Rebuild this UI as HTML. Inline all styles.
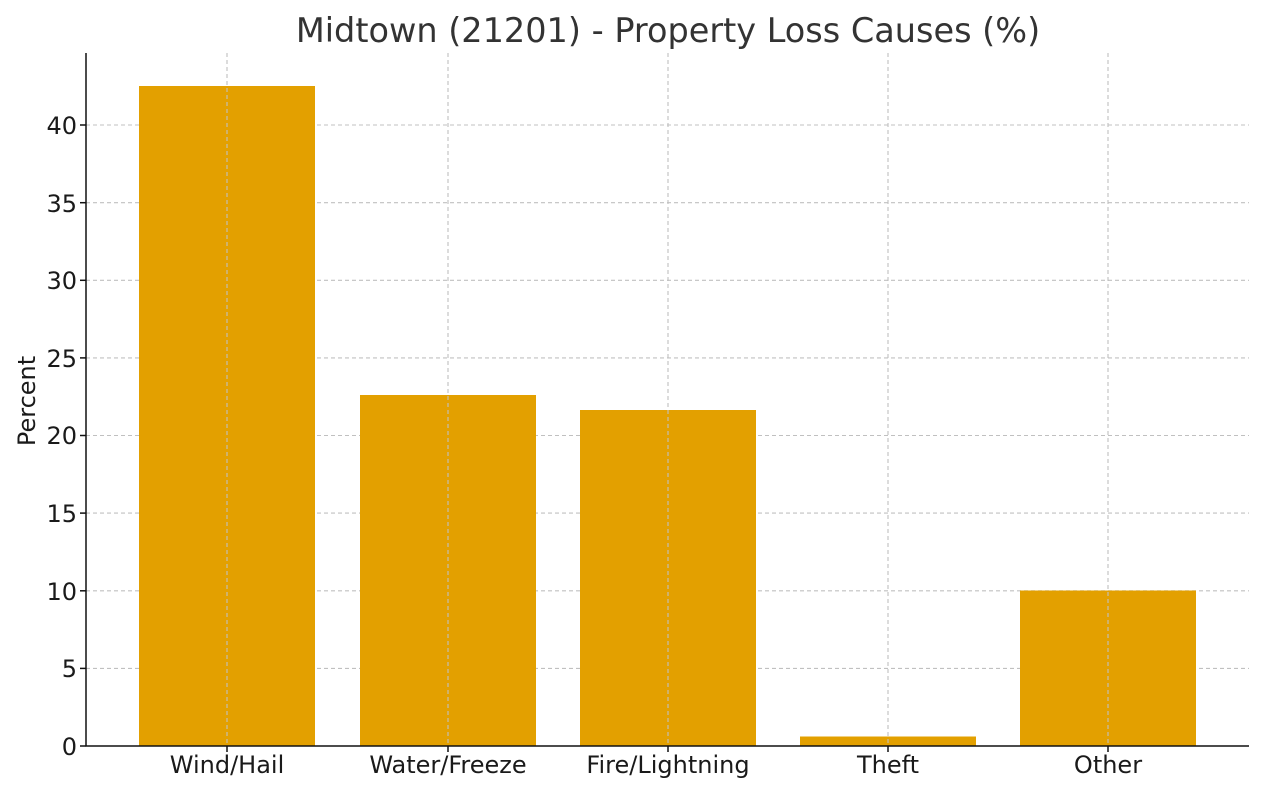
<!DOCTYPE html>
<html><head><meta charset="utf-8"><style>
html,body{margin:0;padding:0;background:#fff;}
svg text{font-family:"DejaVu Sans","Liberation Sans",sans-serif;}
</style></head><body>
<svg width="1263" height="792" xmlns="http://www.w3.org/2000/svg">
<rect width="1263" height="792" fill="#fff"/>
<g stroke="#c0c0c0" stroke-width="1.1" stroke-dasharray="4,3">
<line x1="86" x2="1249" y1="668.4" y2="668.4"/>
<line x1="86" x2="1249" y1="590.8" y2="590.8"/>
<line x1="86" x2="1249" y1="513.1" y2="513.1"/>
<line x1="86" x2="1249" y1="435.5" y2="435.5"/>
<line x1="86" x2="1249" y1="357.9" y2="357.9"/>
<line x1="86" x2="1249" y1="280.3" y2="280.3"/>
<line x1="86" x2="1249" y1="202.7" y2="202.7"/>
<line x1="86" x2="1249" y1="125" y2="125"/>
</g>
<g fill="#e3a000">
<rect x="139" y="86" width="176" height="660"/>
<rect x="360" y="395" width="176" height="351"/>
<rect x="580" y="410" width="176" height="336"/>
<rect x="800" y="736.5" width="176" height="9.5"/>
<rect x="1020" y="590.5" width="176" height="155.5"/>
</g>
<g stroke="#c0c0c0" stroke-width="1.1" stroke-dasharray="4,3">
<line x1="227" x2="227" y1="53" y2="746"/>
<line x1="448" x2="448" y1="53" y2="746"/>
<line x1="668" x2="668" y1="53" y2="746"/>
<line x1="888" x2="888" y1="53" y2="746"/>
<line x1="1108" x2="1108" y1="53" y2="746"/>
</g>
<g stroke="#111" stroke-width="1.5">
<line x1="86" x2="86" y1="53" y2="746.5"/>
<line x1="85.5" x2="1249" y1="746" y2="746"/>
<line x1="80" x2="86" y1="746" y2="746"/><line x1="80" x2="86" y1="668.4" y2="668.4"/>
<line x1="80" x2="86" y1="590.8" y2="590.8"/><line x1="80" x2="86" y1="513.1" y2="513.1"/>
<line x1="80" x2="86" y1="435.5" y2="435.5"/><line x1="80" x2="86" y1="357.9" y2="357.9"/>
<line x1="80" x2="86" y1="280.3" y2="280.3"/><line x1="80" x2="86" y1="202.7" y2="202.7"/>
<line x1="80" x2="86" y1="125" y2="125"/>
<line x1="227" x2="227" y1="746" y2="752"/><line x1="448" x2="448" y1="746" y2="752"/>
<line x1="668" x2="668" y1="746" y2="752"/><line x1="888" x2="888" y1="746" y2="752"/>
<line x1="1108" x2="1108" y1="746" y2="752"/>
</g>
<g font-size="24" fill="#1a1a1a" text-anchor="end">
<text x="77" y="755">0</text><text x="77" y="677">5</text><text x="77" y="600">10</text>
<text x="77" y="522">15</text><text x="77" y="444">20</text><text x="77" y="367">25</text>
<text x="77" y="289">30</text><text x="77" y="212">35</text><text x="77" y="134">40</text>
</g>
<g font-size="24" fill="#1a1a1a" text-anchor="middle">
<text x="227" y="773">Wind/Hail</text><text x="448" y="773">Water/Freeze</text>
<text x="668" y="773">Fire/Lightning</text><text x="888" y="773">Theft</text>
<text x="1108" y="773">Other</text>
</g>
<text x="35" y="401" font-size="24" fill="#1a1a1a" text-anchor="middle" transform="rotate(-90 35 401)">Percent</text>
<text x="668" y="42" font-size="33.5" fill="#333" text-anchor="middle">Midtown (21201) - Property Loss Causes (%)</text>
</svg>
</body></html>
